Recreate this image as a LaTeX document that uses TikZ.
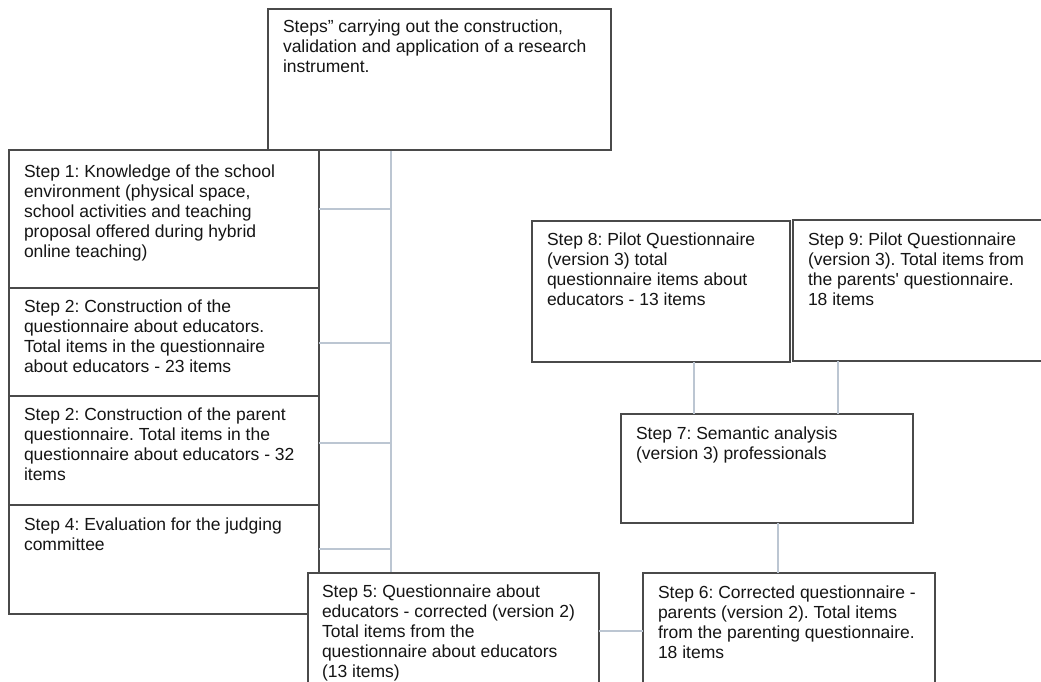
\documentclass[tikz,border=0pt]{standalone}
\usepackage{fontspec}
\setmainfont{Liberation Sans}
\frenchspacing
\definecolor{boxline}{HTML}{4A4A4A}
\definecolor{linkline}{HTML}{BCC6D2}
\definecolor{inktext}{HTML}{151515}
\tikzset{
  stepbox/.style={draw=boxline, line width=1.1pt, fill=white, inner sep=0pt, outer sep=0pt, anchor=north west},
  steptext/.style={anchor=north west, inner sep=0pt, outer sep=0pt, align=left, text=inktext, font=\fontsize{17.5}{20}\selectfont\frenchspacing},
  link/.style={draw=linkline, line width=1.6pt}
}
\begin{document}
\begin{tikzpicture}[x=1pt,y=-1pt]
\useasboundingbox (0,0) rectangle (1041,681);
\clip (0,0) rectangle (1041,681);
\fill[white] (0,0) rectangle (1041,681);

% connector coordinates
\coordinate (sp0) at (391,150);
\coordinate (h1) at (391,209);
\coordinate (h2) at (391,343);
\coordinate (h3) at (391,443);
\coordinate (h4) at (391,549);
\coordinate (sp1) at (391,573);

% spine (drawn first, boxes on top)
\draw[link] (sp0) -- (sp1);

% boxes
\node[stepbox, minimum width=343pt, minimum height=141pt] (top) at (268,9) {};
\node[stepbox, minimum width=310pt, minimum height=138pt] (s1) at (9,150) {};
\node[stepbox, minimum width=310pt, minimum height=108pt] (s2) at (9,288) {};
\node[stepbox, minimum width=310pt, minimum height=109pt] (s3) at (9,396) {};
\node[stepbox, minimum width=310pt, minimum height=109pt] (s4) at (9,505) {};
\node[stepbox, minimum width=291pt, minimum height=130pt] (s5) at (308,573) {};
\node[stepbox, minimum width=292pt, minimum height=130pt] (s6) at (643,573) {};
\node[stepbox, minimum width=292pt, minimum height=109pt] (s7) at (621,414) {};
\node[stepbox, minimum width=258pt, minimum height=141pt] (s8) at (532,221) {};
\node[stepbox, minimum width=260pt, minimum height=141pt] (s9) at (793,220) {};

% connectors between boxes
\draw[link] (s1.east |- h1) -- (h1);
\draw[link] (s2.east |- h2) -- (h2);
\draw[link] (s3.east |- h3) -- (h3);
\draw[link] (s4.east |- h4) -- (h4);
\draw[link] ([yshift=-58pt]s5.north east) -- ([yshift=-58pt]s6.north west);
\draw[link] ([xshift=157pt]s7.south west) -- ([xshift=135pt]s6.north west);
\draw[link] ([xshift=162pt]s8.south west) -- ([xshift=73pt]s7.north west);
\draw[link] ([xshift=45pt]s9.south west) -- ([xshift=217pt]s7.north west);

% texts
\node[steptext] (ttop) at ([shift={(15,11)}]top.north west) {Steps” carrying out the construction,\\validation and application of a research\\instrument.};
\node[steptext] (t1) at ([shift={(15,15)}]s1.north west) {Step 1: Knowledge of the school\\environment (physical space,\\school activities and teaching\\proposal offered during hybrid\\online teaching)};
\node[steptext] (t2) at ([shift={(15,12)}]s2.north west) {Step 2: Construction of the\\questionnaire about educators.\\Total items in the questionnaire\\about educators - 23 items};
\node[steptext] (t3) at ([shift={(15,12)}]s3.north west) {Step 2: Construction of the parent\\questionnaire. Total items in the\\questionnaire about educators - 32\\items};
\node[steptext] (t4) at ([shift={(15,13)}]s4.north west) {Step 4: Evaluation for the judging\\committee};
\node[steptext] (t5) at ([shift={(14,12)}]s5.north west) {Step 5: Questionnaire about\\educators - corrected (version 2)\\Total items from the\\questionnaire about educators\\(13 items)};
\node[steptext] (t6) at ([shift={(15,13)}]s6.north west) {Step 6: Corrected questionnaire -\\parents (version 2). Total items\\from the parenting questionnaire.\\18 items};
\node[steptext] (t7) at ([shift={(15,13)}]s7.north west) {Step 7: Semantic analysis\\(version 3) professionals};
\node[steptext] (t8) at ([shift={(15,12)}]s8.north west) {Step 8: Pilot Questionnaire\\(version 3) total\\questionnaire items about\\educators - 13 items};
\node[steptext] (t9) at ([shift={(15,13)}]s9.north west) {Step 9: Pilot Questionnaire\\(version 3). Total items from\\the parents\textquotesingle{} questionnaire.\\18 items};
\end{tikzpicture}
\end{document}
